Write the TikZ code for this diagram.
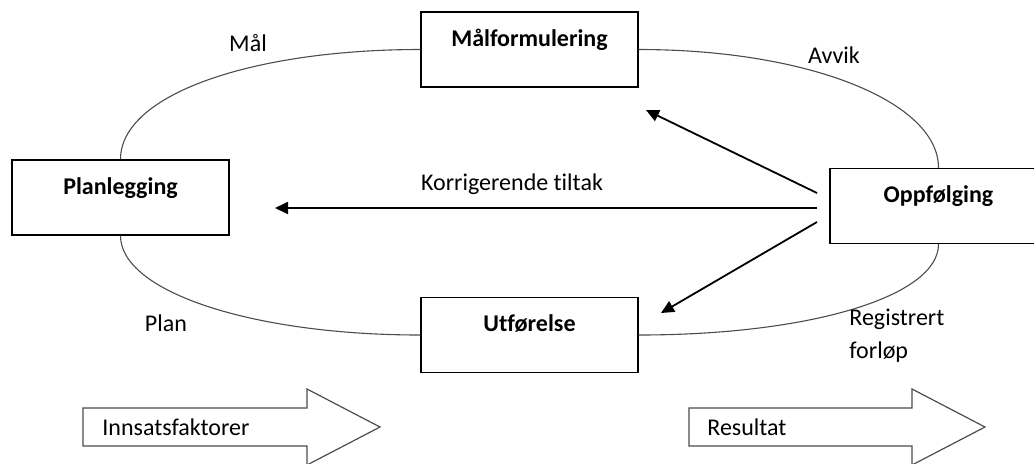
\documentclass[tikz,border=0pt]{standalone}
\usepackage{fontspec}
\setmainfont{Carlito}[Ligatures=NoCommon]
\usetikzlibrary{arrows.meta,positioning}

\newcommand\diagfont{\fontsize{12pt}{16.5pt}\selectfont}

\begin{document}
\begin{tikzpicture}[
    x=0.5pt, y=-0.5pt,
    block/.style={draw, line width=0.7pt, minimum width=108.5pt, inner sep=0pt, text height=17pt, text depth=20.5pt, font=\diagfont\bfseries},
    lbl/.style={inner sep=0pt, font=\diagfont},
    arr/.style={-{Triangle[length=6.5pt,width=6pt]}, line width=0.9pt},
    cycleline/.style={draw=black!70, line width=0.55pt},
    bigarrow/.style={draw=black!70, line width=0.6pt}
]
\useasboundingbox (0,0) rectangle (1034,463);

\node[block] (mal) at (529.5,49.5) {Målformulering};
\node[block] (plan) at (120.5,197.5) {Planlegging};
\node[block] (opp) at (938.5,206) {Oppfølging};
\node[block] (utf) at (529.5,335) {Utførelse};

\draw[cycleline] (plan.north) .. controls +(0,-65) and +(-168,0) .. (mal.west);
\draw[cycleline] (mal.east) .. controls +(170,0) and +(0,-66) .. (opp.north);
\draw[cycleline] (opp.south) .. controls +(0,52) and +(172,0) .. (utf.east);
\draw[cycleline] (utf.west) .. controls +(-168,0) and +(0,56) .. (plan.south);

\node[lbl] (mallbl) at (248,43) {Mål};
\node[lbl] (avvik) at (834,55) {Avvik};
\node[lbl] (planlbl) at (166,323) {Plan};
\node[lbl, align=left, anchor=west] (reg) at (849,336) {Registrert\\forløp};
\node[lbl] (korr) at (512,184) {Korrigerende tiltak};

\coordinate (k0) at (817,208);
\coordinate (k1) at (275,208);
\coordinate (m0) at (817,193);
\coordinate (m1) at (646,110);
\coordinate (u0) at (817,222);
\coordinate (u1) at (661,313);
\draw[arr] (k0) -- (k1);
\draw[arr] (m0) -- (m1);
\draw[arr] (u0) -- (u1);

% input and output
\draw[bigarrow] (83,408) -- (307,408) -- (307,389) -- (380,427) -- (307,465) -- (307,446) -- (83,446) -- cycle;
\node[lbl, anchor=west] (innsats) at (102,427) {Innsatsfaktorer};
\draw[bigarrow] (689,408) -- (912,408) -- (912,389) -- (985,427) -- (912,465) -- (912,446) -- (689,446) -- cycle;
\node[lbl, anchor=west] (resultat) at (707,427) {Resultat};
\end{tikzpicture}
\end{document}
